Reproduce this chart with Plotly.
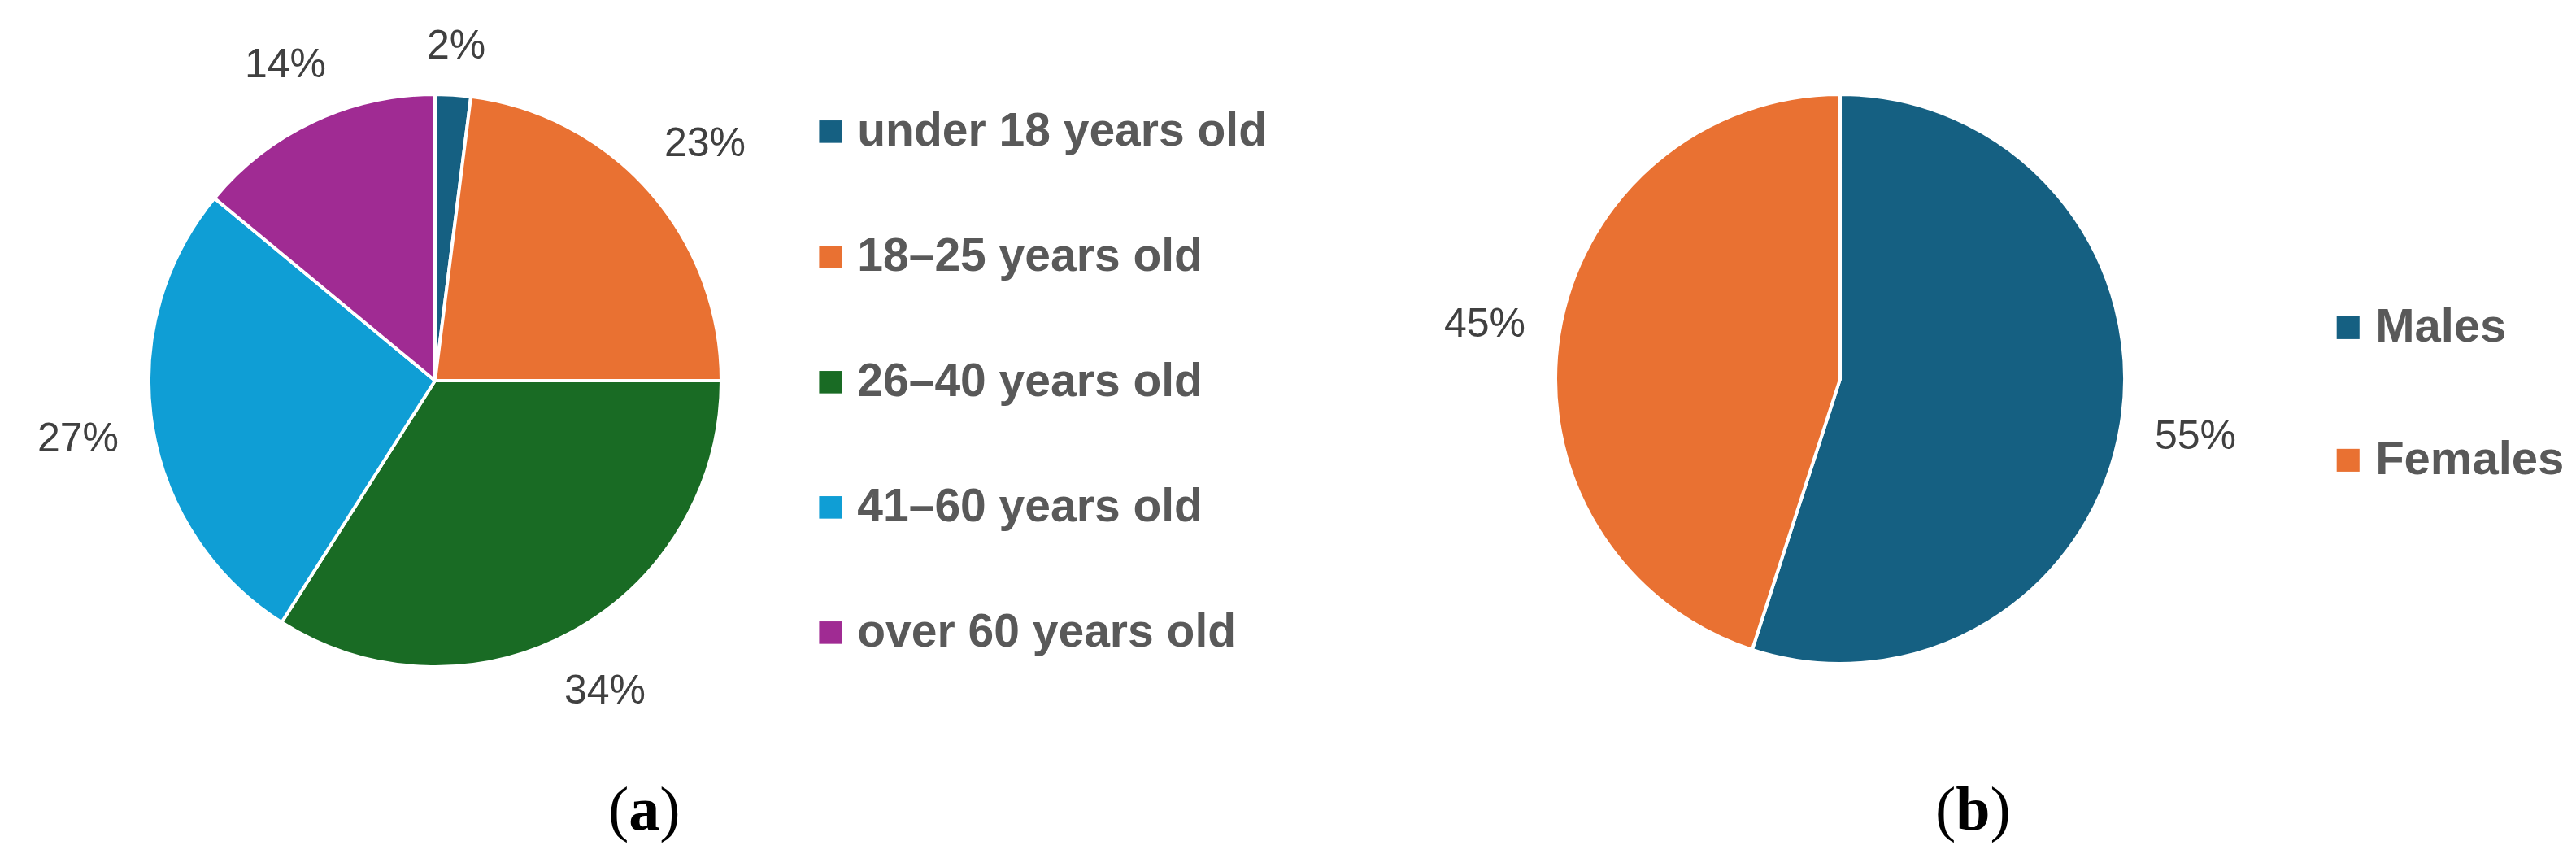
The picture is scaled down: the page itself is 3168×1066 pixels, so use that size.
import math
import plotly.graph_objects as go

# (a) age groups
age_labels = ["under 18 years old", "18–25 years old", "26–40 years old",
              "41–60 years old", "over 60 years old"]
age_values = [2, 23, 34, 27, 14]
age_colors = ["#156082", "#E97132", "#196B24", "#0F9ED5", "#A02B93"]

# (b) gender
sex_labels = ["Males", "Females"]
sex_values = [55, 45]
sex_colors = ["#156082", "#E97132"]

captions = ["(<b>a</b>)", "(<b>b</b>)"]

W, H = 3168, 1066
LABEL_SIZE = 50
label_font = dict(family="Liberation Sans", size=LABEL_SIZE, color="#404040")


def add_pie(fig, labels, values, colors, domain):
    fig.add_trace(go.Pie(
        labels=labels, values=values,
        marker=dict(colors=colors, line=dict(color="white", width=4)),
        sort=False, direction="clockwise", rotation=0,
        textinfo="none", domain=domain, showlegend=False,
        hoverinfo="label+percent",
    ))
    # percent labels placed outside the rim, at each slice's mid angle
    cx = sum(domain["x"]) / 2
    cy = sum(domain["y"]) / 2
    r = min((domain["x"][1] - domain["x"][0]) * W, (domain["y"][1] - domain["y"][0]) * H) / 2
    total = sum(values)
    cum = 0
    for v in values:
        ang = math.radians((cum + v / 2) / total * 360)
        cum += v
        txt = f"{round(v / total * 100)}%"
        tw = (0.556 * (len(txt) - 1) + 0.889) * LABEL_SIZE
        th = 0.8 * LABEL_SIZE
        d = r + 40 + abs(math.sin(ang)) * tw / 2 + abs(math.cos(ang)) * th / 2
        fig.add_annotation(text=txt,
                           x=cx + d * math.sin(ang) / W, y=cy + d * math.cos(ang) / H,
                           xref="paper", yref="paper", showarrow=False,
                           xanchor="center", yanchor="middle", font=label_font)


def add_legend(fig, labels, colors, x, y_first, step, size):
    for i, (lab, col) in enumerate(zip(labels, colors)):
        fig.add_annotation(
            text=f'<span style="color:{col}">■</span> {lab}',
            x=x / W, y=1 - (y_first + i * step) / H,
            xref="paper", yref="paper", showarrow=False,
            xanchor="left", yanchor="middle",
            font=dict(family="Liberation Sans", size=size, color="#595959", weight="bold"),
        )


fig = go.Figure()
add_pie(fig, age_labels, age_values, age_colors,
        dict(x=[0.05524, 0.27746], y=[0.23827, 0.89869]))
add_pie(fig, sex_labels, sex_values, sex_colors,
        dict(x=[0.60133, 0.82229], y=[0.24203, 0.89869]))

add_legend(fig, age_labels, age_colors, 994, 151, 154, 57)
add_legend(fig, sex_labels, sex_colors, 2860, 391, 163, 58)

for txt, cx in zip(captions, [0.2475, 0.7635]):
    fig.add_annotation(text=txt, x=cx, y=0.075, xref="paper", yref="paper",
                       showarrow=False, xanchor="center", yanchor="middle",
                       font=dict(family="Liberation Serif", size=76, color="black"))

fig.update_layout(
    width=W, height=H,
    margin=dict(l=0, r=0, t=0, b=0),
    paper_bgcolor="white", plot_bgcolor="white",
)

fig.write_html("out.html")
